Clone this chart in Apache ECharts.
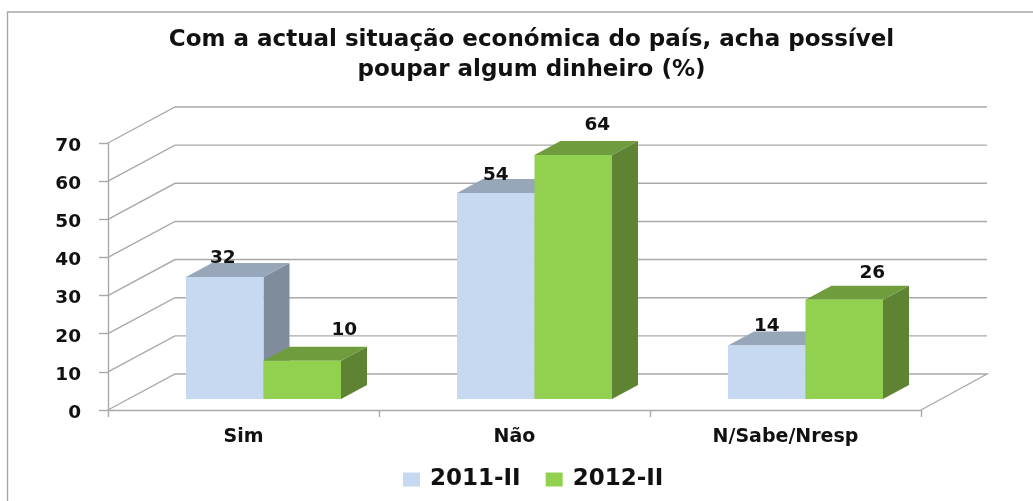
<!DOCTYPE html>
<html>
<head>
<meta charset="utf-8">
<style>html,body{margin:0;padding:0;background:#fff}#c{width:1033px;height:501px}</style>
<script src="https://cdn.jsdelivr.net/npm/echarts@6/dist/echarts.min.js"></script>
</head>
<body>
<div id="c"></div>
<script>
var categories = ['Sim', 'Não', 'N/Sabe/Nresp'];
var values2011 = [32, 54, 14];
var values2012 = [10, 64, 26];
var seriesNames = ['2011-II', '2012-II'];
var yTicks = [0, 10, 20, 30, 40, 50, 60, 70];
var titleText = 'Com a actual situação económica do país, acha possível\npoupar algum dinheiro (%)';

var FONT = '"DejaVu Sans", sans-serif';
var WALL_DX = 67, WALL_DY = 36;
var FLOOR_DX = 20, FLOOR_DY = 11;
var BAR_DX = 26, BAR_DY = 14, BAR_W = 77.5;
var GRID = '#a9a9a9';
var labelNudge = [[[-2, -19], [0, -18], [0, -19]], [[42, -31], [24, -30], [28, -27]]];
var palettes = [
  { front: '#C6D9F1', top: '#97A6B9', side: '#7F8C9C' },
  { front: '#92D050', top: '#6F9C3D', side: '#5E8433' }
];

function renderWall(params, api) {
  var cs = params.coordSys;
  var y = api.coord([0, api.value(1)])[1];
  var x0 = cs.x, x1 = cs.x + cs.width;
  var pts = [[x0, y], [x0 + WALL_DX, y - WALL_DY], [x1 + WALL_DX - 1, y - WALL_DY]];
  if (api.value(1) === 0) pts.push([x1, y]);
  return { type: 'polyline', shape: { points: pts },
    style: { stroke: GRID, lineWidth: 1.4, fill: null } };
}

function barRenderer(seriesIndex) {
  var pal = palettes[seriesIndex];
  return function (params, api) {
    var i = api.value(0), v = api.value(1);
    var base = api.coord([i, 0]);
    var topPt = api.coord([i, v]);
    var yb = base[1] - FLOOR_DY, yt = topPt[1] - FLOOR_DY;
    var xl = base[0] + FLOOR_DX + (seriesIndex === 0 ? -BAR_W : 0);
    var xr = xl + BAR_W;
    var nudge = labelNudge[seriesIndex][i];
    return { type: 'group', children: [
      { type: 'polygon', shape: { points: [[xr, yb], [xr + BAR_DX, yb - BAR_DY], [xr + BAR_DX, yt - BAR_DY], [xr, yt]] },
        style: { fill: pal.side } },
      { type: 'polygon', shape: { points: [[xl, yt], [xl + BAR_DX, yt - BAR_DY], [xr + BAR_DX, yt - BAR_DY], [xr, yt]] },
        style: { fill: pal.top } },
      { type: 'rect', shape: { x: xl, y: yt, width: BAR_W, height: yb - yt },
        style: { fill: pal.front } },
      { type: 'text', z2: 100, style: { text: String(v), x: (xl + xr) / 2 + nudge[0], y: yt + nudge[1],
        align: 'center', verticalAlign: 'middle', font: 'bold 18.5px ' + FONT, fill: '#111' } }
    ] };
  };
}

var chart = echarts.init(document.getElementById('c'), null, { renderer: 'canvas' });
chart.setOption({
  animation: false,
  backgroundColor: '#fff',
  title: {
    text: titleText, left: 526.5, top: 20, textAlign: 'center',
    textStyle: { fontFamily: FONT, fontWeight: 'bold', fontSize: 23, lineHeight: 30, color: '#111' }
  },
  legend: {
    data: seriesNames, top: 468, left: 403, padding: 0, itemWidth: 17, itemHeight: 14, itemGap: 25,
    icon: 'rect',
    textStyle: { fontFamily: FONT, fontWeight: 'bold', fontSize: 23, color: '#111', padding: [0, 0, 0, 5] }
  },
  grid: { left: 108, top: 143, width: 813, height: 267 },
  xAxis: {
    type: 'category', data: categories,
    axisLine: { lineStyle: { color: GRID, width: 1.4 } },
    axisTick: { show: true, length: 7, alignWithLabel: false, lineStyle: { color: GRID, width: 1.4 } },
    axisLabel: { margin: 18, interval: 0, fontFamily: FONT, fontWeight: 'bold', fontSize: 19, color: '#111' },
    splitLine: { show: false }
  },
  yAxis: {
    type: 'value', min: 0, max: 70, interval: 10,
    axisLine: { show: true, lineStyle: { color: GRID, width: 1.4 } },
    axisTick: { show: true, length: 9, lineStyle: { color: GRID, width: 1.4 } },
    axisLabel: { margin: 27, verticalAlign: 'top', lineHeight: 6, fontFamily: FONT, fontWeight: 'bold', fontSize: 18.5, color: '#111' },
    splitLine: { show: false }
  },
  graphic: [{
    type: 'polyline', silent: true,
    shape: { points: [[7.5, 501], [7.5, 12], [1033, 12]] },
    style: { stroke: '#a8a8a8', lineWidth: 1.4, fill: null }
  }],
  series: [
    { type: 'custom', name: 'grade', silent: true, renderItem: renderWall, z: 1,
      data: yTicks.map(function (t) { return [0, t]; }), encode: { x: 0, y: 1 } },
    { type: 'custom', name: seriesNames[0], renderItem: barRenderer(0), z: 2, itemStyle: { color: palettes[0].front },
      data: values2011.map(function (v, i) { return [i, v]; }), encode: { x: 0, y: 1 } },
    { type: 'custom', name: seriesNames[1], renderItem: barRenderer(1), z: 3, itemStyle: { color: palettes[1].front },
      data: values2012.map(function (v, i) { return [i, v]; }), encode: { x: 0, y: 1 } }
  ]
});
</script>
</body>
</html>
